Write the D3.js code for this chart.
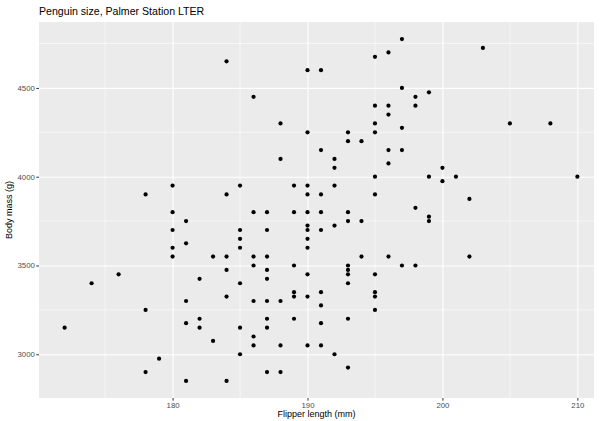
<!DOCTYPE html>
<html>
<head>
<meta charset="utf-8">
<script src="https://cdn.jsdelivr.net/npm/d3@7"></script>
<style>
  body { margin: 0; background: #fff; }
  text { font-family: "Liberation Sans", Arial, sans-serif; }
</style>
</head>
<body>
<div id="chart"></div>
<script>
// flipper length (mm) and body mass (g)
var flipper = [184, 197, 196, 195, 190, 191, 186, 197, 198, 195, 196, 198, 203, 199,
               178, 180, 184, 196, 188, 195, 197, 190, 193, 195, 193, 194, 191, 196,
               197, 188, 192, 192, 196, 195, 185, 189, 190, 192, 190, 191, 195, 198,
               205, 208, 200, 199, 200, 201, 210, 202, 180, 181, 180, 181, 180, 180,
               183, 184, 176, 174, 184, 182, 184, 181, 178, 186, 187, 189, 190, 191,
               193, 193, 194, 190, 192, 185, 187, 190, 191, 185, 190, 185, 190, 186,
               187, 194, 196, 186, 189, 193, 197, 198, 187, 193, 190, 193, 195, 187,
               185, 193, 189, 191, 195, 189, 190, 195, 186, 187, 188, 191, 195, 199,
               199, 202, 172, 181, 182, 182, 183, 179, 178, 181, 184, 187, 189, 193,
               185, 187, 191, 186, 186, 188, 190, 191, 185, 192, 193, 187, 188];
var mass = [4650, 4775, 4700, 4675, 4600, 4600, 4450, 4500, 4450, 4400, 4400, 4400, 4725, 4475,
            3900, 3950, 3900, 4350, 4300, 4300, 4275, 4250, 4250, 4250, 4200, 4200, 4150, 4150,
            4150, 4100, 4100, 4050, 4075, 4000, 3950, 3950, 3950, 3950, 3900, 3900, 3900, 3825,
            4300, 4300, 4050, 4000, 3975, 4000, 4000, 3875, 3800, 3750, 3700, 3625, 3600, 3550,
            3550, 3550, 3450, 3400, 3475, 3425, 3325, 3300, 3250, 3800, 3800, 3800, 3800, 3800,
            3800, 3750, 3750, 3725, 3725, 3700, 3700, 3700, 3700, 3650, 3650, 3600, 3600, 3550,
            3550, 3550, 3550, 3500, 3500, 3500, 3500, 3500, 3475, 3475, 3450, 3450, 3450, 3425,
            3400, 3400, 3350, 3350, 3350, 3325, 3325, 3325, 3300, 3300, 3300, 3275, 3250, 3775,
            3750, 3550, 3150, 3175, 3200, 3150, 3075, 2975, 2900, 2850, 2850, 3200, 3200, 3200,
            3150, 3150, 3175, 3100, 3050, 3050, 3050, 3050, 3000, 3000, 2925, 2900, 2900];

var xTicks = [180, 190, 200, 210],
    yTicks = [3000, 3500, 4000, 4500];

var titleText = "Penguin size, Palmer Station LTER",
    xTitle = "Flipper length (mm)",
    yTitle = "Body mass (g)";

var width = 600, height = 421;
// panel box
var margin = {top: 22, bottom: 23, left: 39, right: 6};

var svg = d3.select("#chart").append("svg")
            .attr("width", width)
            .attr("height", height);

// ggplot-style 5% expansion of the data range
var xExt = d3.extent(flipper), yExt = d3.extent(mass);
var xPad = (xExt[1] - xExt[0]) * 0.05,
    yPad = (yExt[1] - yExt[0]) * 0.05;

var x = d3.scaleLinear()
          .domain([xExt[0] - xPad, xExt[1] + xPad])
          .range([margin.left, 603]);
var y = d3.scaleLinear()
          .domain([yExt[0] - yPad, yExt[1] + yPad])
          .range([height - margin.bottom, margin.top]);

var panelW = width - margin.right - margin.left,
    panelH = height - margin.bottom - margin.top;

svg.append("clipPath").attr("id", "clip")
   .append("rect")
   .attr("x", margin.left).attr("y", margin.top)
   .attr("width", panelW).attr("height", panelH);

var panel = svg.append("g").attr("clip-path", "url(#clip)");

panel.append("rect")
     .attr("x", margin.left).attr("y", margin.top)
     .attr("width", panelW).attr("height", panelH)
     .style("fill", "#ebebeb");

// minor grid halfway between majors
var xMinor = [175, 185, 195, 205],
    yMinor = [2750, 3250, 3750, 4250, 4750];

panel.selectAll(".xminor").data(xMinor).enter().append("line")
     .attr("x1", d => x(d)).attr("x2", d => x(d))
     .attr("y1", margin.top).attr("y2", margin.top + panelH)
     .style("stroke", "#fff").style("stroke-width", 0.55);
panel.selectAll(".yminor").data(yMinor).enter().append("line")
     .attr("y1", d => y(d)).attr("y2", d => y(d))
     .attr("x1", margin.left).attr("x2", margin.left + panelW)
     .style("stroke", "#fff").style("stroke-width", 0.55);

var xAxis = d3.axisBottom(x).tickValues(xTicks).tickSize(-panelH);
var yAxis = d3.axisLeft(y).tickValues(yTicks).tickSize(-panelW);

var xGrid = panel.append("g")
                 .attr("transform", "translate(0," + (margin.top + panelH) + ")")
                 .call(xAxis.tickFormat(""));
var yGrid = panel.append("g")
                 .attr("transform", "translate(" + margin.left + ",0)")
                 .call(yAxis.tickFormat(""));
panel.selectAll(".domain").remove();
panel.selectAll(".tick line").style("stroke", "#fff").style("stroke-width", 1.1);

// points
panel.selectAll(".pt").data(flipper).enter().append("circle")
     .attr("cx", d => x(d))
     .attr("cy", (d, i) => y(mass[i]))
     .attr("r", 2.1)
     .style("fill", "#000");

// tick marks and labels outside the panel
var xLab = svg.append("g")
              .attr("transform", "translate(0," + (margin.top + panelH) + ")")
              .call(d3.axisBottom(x).tickValues(xTicks).tickFormat(d3.format("d"))
                      .tickSize(2.7).tickPadding(1.5));
var yLab = svg.append("g")
              .attr("transform", "translate(" + margin.left + ",0)")
              .call(d3.axisLeft(y).tickValues(yTicks).tickFormat(d3.format("d"))
                      .tickSize(2.7).tickPadding(1.5));
svg.selectAll(".domain").remove();
[xLab, yLab].forEach(function(g) {
    g.selectAll(".tick line").style("stroke", "#333").style("stroke-width", 1);
    g.selectAll(".tick text")
     .style("fill", "#4d4d4d")
     .style("font-size", "7.8px")
     .style("font-family", "Liberation Sans, Arial, sans-serif");
});

svg.append("text")
   .attr("x", margin.left)
   .attr("y", 15)
   .style("font-size", "10.6px")
   .style("fill", "#000")
   .text(titleText);

svg.append("text")
   .attr("x", margin.left + panelW / 2)
   .attr("y", 417)
   .attr("text-anchor", "middle")
   .style("font-size", "9px")
   .style("fill", "#000")
   .text(xTitle);

svg.append("text")
   .attr("transform", "translate(12," + (margin.top + panelH / 2) + ") rotate(-90)")
   .attr("text-anchor", "middle")
   .style("font-size", "9px")
   .style("fill", "#000")
   .text(yTitle);
</script>
</body>
</html>
